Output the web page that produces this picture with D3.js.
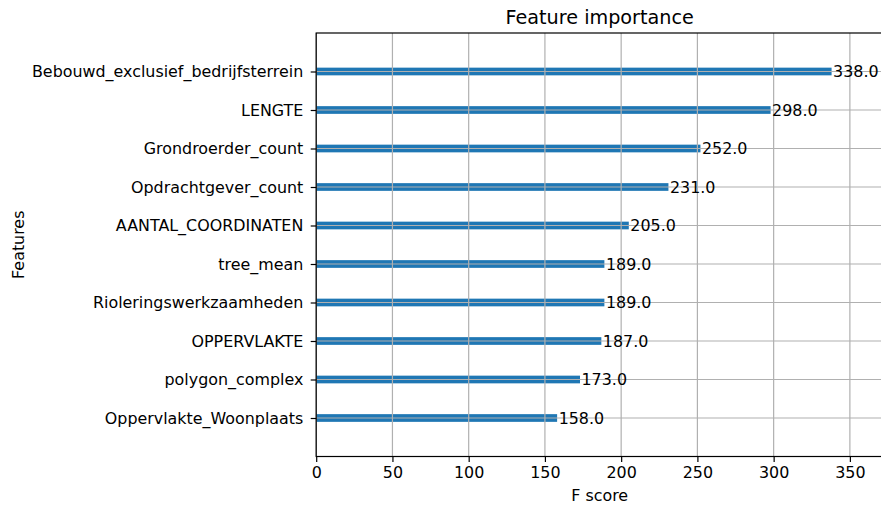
<!DOCTYPE html>
<html>
<head>
<meta charset="utf-8">
<script src="https://cdn.jsdelivr.net/npm/d3@7"></script>
<style>
  body { margin: 0; background: #fff; }
  svg { display: block; font-family: "DejaVu Sans", sans-serif; }
</style>
</head>
<body>
<svg id="chart" width="881" height="506"></svg>
<script>
// Features, ordered from bottom to top as plotted
const features = [
  "Oppervlakte_Woonplaats",
  "polygon_complex",
  "OPPERVLAKTE",
  "Rioleringswerkzaamheden",
  "tree_mean",
  "AANTAL_COORDINATEN",
  "Opdrachtgever_count",
  "Grondroerder_count",
  "LENGTE",
  "Bebouwd_exclusief_bedrijfsterrein"
];
const scores = [158, 173, 187, 189, 189, 205, 231, 252, 298, 338];
const xTicks = [0, 50, 100, 150, 200, 250, 300, 350];

const svg = d3.select("#chart");
const plotLeft = 316.2, plotTop = 33, plotBottom = 456.5;
const xMax = d3.max(scores) * 1.1;
const plotRight = plotLeft + xMax * 1.5248;
const fs = "15.9px";

const x = d3.scaleLinear().domain([0, xMax]).range([plotLeft, plotRight]);
const y = d3.scaleLinear().domain([-1, features.length]).range([plotBottom, plotTop]);
const barH = Math.abs(y(0.1) - y(-0.1));

// bars
svg.append("g").selectAll("rect").data(scores).join("rect")
  .attr("x", x(0))
  .attr("y", (d, i) => y(i) - barH / 2)
  .attr("width", d => x(d) - x(0))
  .attr("height", barH)
  .attr("fill", "#1f77b4");

// grid lines drawn over the bars
svg.append("g").selectAll("line").data(xTicks).join("line")
  .attr("x1", d => x(d)).attr("x2", d => x(d))
  .attr("y1", plotTop).attr("y2", plotBottom)
  .attr("stroke", "#b0b0b0").attr("stroke-width", 1.2);
svg.append("g").selectAll("line").data(features).join("line")
  .attr("x1", plotLeft).attr("x2", plotRight)
  .attr("y1", (d, i) => y(i)).attr("y2", (d, i) => y(i))
  .attr("stroke", "#b0b0b0").attr("stroke-width", 1.2);

// value labels
svg.append("g").selectAll("text").data(scores).join("text")
  .attr("x", d => x(d + 1))
  .attr("y", (d, i) => y(i))
  .attr("dy", "0.36em")
  .attr("font-size", fs)
  .attr("fill", "#000")
  .text(d => d.toFixed(1));

// axes
const xAxis = d3.axisBottom(x).tickValues(xTicks).tickSize(5.5).tickPadding(4.5);
const gx = svg.append("g").attr("transform", `translate(0,${plotBottom})`).call(xAxis);
gx.select(".domain").remove();
gx.selectAll("text").attr("font-size", fs).attr("fill", "#000").attr("font-family", "DejaVu Sans");
gx.selectAll("line").attr("stroke", "#000").attr("stroke-width", 1.2);

const yAxis = d3.axisLeft(y).tickValues(d3.range(features.length))
  .tickFormat(i => features[i]).tickSize(5.5).tickPadding(7.4);
const gy = svg.append("g").attr("transform", `translate(${plotLeft},0)`).call(yAxis);
gy.select(".domain").remove();
gy.selectAll("text").attr("font-size", fs).attr("fill", "#000").attr("font-family", "DejaVu Sans");
gy.selectAll("line").attr("stroke", "#000").attr("stroke-width", 1.2);

// spines
svg.append("rect")
  .attr("x", plotLeft).attr("y", plotTop)
  .attr("width", plotRight - plotLeft).attr("height", plotBottom - plotTop)
  .attr("fill", "none").attr("stroke", "#000").attr("stroke-width", 1.2);

// titles
svg.append("text")
  .attr("x", (plotLeft + plotRight) / 2).attr("y", 24)
  .attr("text-anchor", "middle").attr("font-size", "19.2px")
  .text("Feature importance");
svg.append("text")
  .attr("x", (plotLeft + plotRight) / 2).attr("y", 501)
  .attr("text-anchor", "middle").attr("font-size", fs)
  .text("F score");
svg.append("text")
  .attr("transform", `translate(24,${(plotTop + plotBottom) / 2}) rotate(-90)`)
  .attr("text-anchor", "middle").attr("font-size", fs)
  .text("Features");
</script>
</body>
</html>
